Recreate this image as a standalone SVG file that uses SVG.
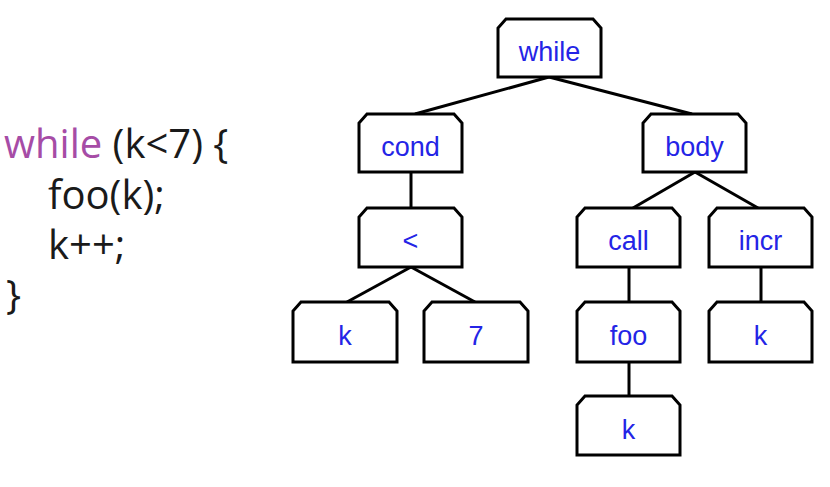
<svg xmlns="http://www.w3.org/2000/svg" width="830" height="487" viewBox="0 0 830 487">
<style>
.n{fill:#fff;stroke:#000;stroke-width:3;stroke-linejoin:miter}
.t{font-family:"Liberation Sans",Arial,sans-serif;font-size:27px;fill:#2424e6;text-anchor:middle}
.e{stroke:#000;stroke-width:3;fill:none}
.c{font-family:"Open Sans",sans-serif;font-size:40px;fill:#1a1a1a}
</style>
<rect width="830" height="487" fill="#fff"/>
<g id="code">
<text class="c" x="4" y="158"><tspan fill="#a64ca6">while</tspan> (k&lt;7) {</text>
<text class="c" x="48" y="209">foo(k);</text>
<text class="c" x="48" y="259">k++;</text>
<text class="c" x="6" y="309">}</text>
</g>
<g id="edges">
<line class="e" x1="549" y1="77" x2="415" y2="114"/>
<line class="e" x1="549" y1="77" x2="692" y2="114"/>
<line class="e" x1="411" y1="172" x2="411" y2="208"/>
<line class="e" x1="695" y1="172" x2="633" y2="208"/>
<line class="e" x1="695" y1="172" x2="758" y2="208"/>
<line class="e" x1="411" y1="267" x2="347" y2="302"/>
<line class="e" x1="411" y1="267" x2="475" y2="302"/>
<line class="e" x1="629" y1="267" x2="629" y2="302"/>
<line class="e" x1="761" y1="267" x2="761" y2="302"/>
<line class="e" x1="629" y1="362" x2="629" y2="396"/>
</g>
<g id="n-while"><path class="n" d="M498,77V28L506,19H593L601,28V77Z"/><text class="t" x="549.5" y="61">while</text></g>
<g id="n-cond"><path class="n" d="M359,172V123L367,114H454L462,123V172Z"/><text class="t" x="410.5" y="156">cond</text></g>
<g id="n-body"><path class="n" d="M643,172V123L651,114H738L746,123V172Z"/><text class="t" x="694.5" y="156">body</text></g>
<g id="n-lt"><path class="n" d="M359,267V217L367,208H454L462,217V267Z"/><text class="t" x="410.5" y="250">&lt;</text></g>
<g id="n-call"><path class="n" d="M577,267V217L585,208H672L680,217V267Z"/><text class="t" x="628.5" y="250">call</text></g>
<g id="n-incr"><path class="n" d="M709,267V217L717,208H804L812,217V267Z"/><text class="t" x="760.5" y="250">incr</text></g>
<g id="n-k1"><path class="n" d="M293,362V311L301,302H389L397,311V362Z"/><text class="t" x="345" y="345">k</text></g>
<g id="n-7"><path class="n" d="M424,362V311L432,302H520L528,311V362Z"/><text class="t" x="476" y="345">7</text></g>
<g id="n-foo"><path class="n" d="M577,362V311L585,302H672L680,311V362Z"/><text class="t" x="628.5" y="345">foo</text></g>
<g id="n-k3"><path class="n" d="M709,362V311L717,302H804L812,311V362Z"/><text class="t" x="760.5" y="345">k</text></g>
<g id="n-k2"><path class="n" d="M577,455V405L585,396H672L680,405V455Z"/><text class="t" x="628.5" y="439">k</text></g>
</svg>
